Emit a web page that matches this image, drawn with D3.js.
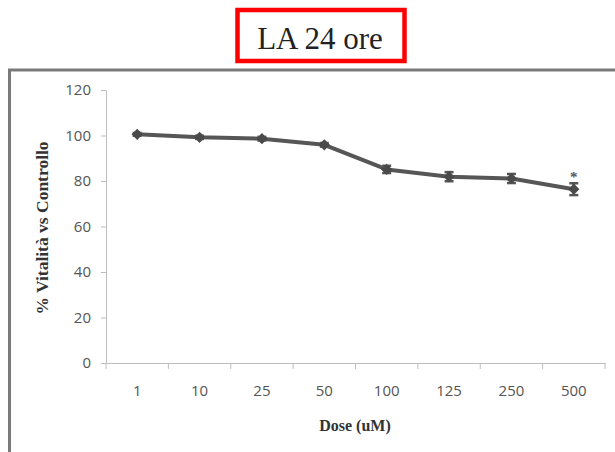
<!DOCTYPE html>
<html>
<head>
<meta charset="utf-8">
<script src="https://cdn.jsdelivr.net/npm/d3@7"></script>
<style>
  html, body { margin: 0; padding: 0; background: #fff; }
  svg { display: block; }
</style>
</head>
<body>
<svg id="chart" width="615" height="452"></svg>
<script>
// Cell viability after 24 h exposure, by dose
const doses = ["1", "10", "25", "50", "100", "125", "250", "500"];
const viability = [100.5, 99.2, 98.6, 95.9, 85.1, 81.9, 81.1, 76.4];
const errors = [0.6, 0.7, 0.8, 0.8, 1.6, 2.0, 2.0, 2.6];
const significant = [false, false, false, false, false, false, false, true];
const yTicks = [0, 20, 40, 60, 80, 100, 120];

(function () {
const svg = d3.select("#chart");
const W = 615, H = 452;

// Plot area
const plotLeft = 106, plotRight = 605, plotTop = 90, plotBottom = 363;

const x = d3.scaleBand().domain(doses).range([plotLeft, plotRight]).padding(0);
const y = d3.scaleLinear().domain([0, 120]).range([plotBottom, plotTop]);

// Outer frame: top and left edges
svg.append("path")
  .attr("d", `M9.5,${H} L9.5,70 L${W},70`)
  .attr("fill", "none")
  .attr("stroke", "#7a7a7a")
  .attr("stroke-width", 3);

// Title box
svg.append("rect")
  .attr("x", 237.5).attr("y", 10)
  .attr("width", 167).attr("height", 51)
  .attr("fill", "#fff")
  .attr("stroke", "#ff0000")
  .attr("stroke-width", 4.5);
svg.append("text")
  .attr("x", 320).attr("y", 49)
  .attr("text-anchor", "middle")
  .attr("font-family", "'Liberation Serif', 'Times New Roman', serif")
  .attr("font-size", 31)
  .attr("fill", "#222")
  .text("LA 24 ore");

const axisColor = "#bdbdbd";
const tickFont = "'Open Sans', 'Liberation Sans', sans-serif";

// Y axis
const yAxis = svg.append("g")
  .attr("transform", `translate(${plotLeft},0)`)
  .call(d3.axisLeft(y).tickValues(yTicks).tickSize(5).tickPadding(10).tickSizeOuter(0));
yAxis.select(".domain").attr("stroke", axisColor);
yAxis.selectAll(".tick line").attr("stroke", axisColor);
yAxis.selectAll(".tick text")
  .attr("font-family", tickFont).attr("font-size", 15).attr("fill", "#555");

// X axis: labels centred in each band, ticks at band boundaries
const xAxis = svg.append("g")
  .attr("transform", `translate(0,${plotBottom})`)
  .call(d3.axisBottom(x).tickSize(0).tickPadding(22).tickSizeOuter(0));
xAxis.select(".domain").attr("stroke", axisColor);
xAxis.selectAll(".tick text")
  .attr("font-family", tickFont).attr("font-size", 15).attr("fill", "#555");

const boundaries = doses.map(d => x(d)).concat([x.range()[1]]);
xAxis.selectAll("line.boundary")
  .data(boundaries)
  .join("line")
  .attr("class", "boundary")
  .attr("x1", d => d).attr("x2", d => d)
  .attr("y1", 0).attr("y2", 6)
  .attr("stroke", axisColor);

// Axis titles
const titleFont = "'Liberation Serif', 'Times New Roman', serif";
svg.append("text")
  .attr("x", 355).attr("y", 431)
  .attr("text-anchor", "middle")
  .attr("font-family", titleFont).attr("font-weight", "bold")
  .attr("font-size", 16).attr("fill", "#333")
  .text("Dose (uM)");
svg.append("text")
  .attr("transform", "translate(48,228) rotate(-90)")
  .attr("text-anchor", "middle")
  .attr("font-family", titleFont).attr("font-weight", "bold")
  .attr("font-size", 17.5).attr("fill", "#333")
  .text("% Vitalità vs Controllo");

const data = doses.map((d, i) => ({ dose: d, v: viability[i], e: errors[i], sig: significant[i] }));
const cx = d => x(d.dose) + x.bandwidth() / 2;
const lineColor = "#565656";

// Error bars
const eb = svg.append("g").attr("stroke", lineColor).attr("stroke-width", 2.5);
data.forEach(d => {
  eb.append("line").attr("x1", cx(d)).attr("x2", cx(d))
    .attr("y1", y(d.v + d.e)).attr("y2", y(d.v - d.e));
  eb.append("line").attr("x1", cx(d) - 4.5).attr("x2", cx(d) + 4.5)
    .attr("y1", y(d.v + d.e)).attr("y2", y(d.v + d.e));
  eb.append("line").attr("x1", cx(d) - 4.5).attr("x2", cx(d) + 4.5)
    .attr("y1", y(d.v - d.e)).attr("y2", y(d.v - d.e));
});

// Series line
svg.append("path")
  .datum(data)
  .attr("fill", "none")
  .attr("stroke", lineColor)
  .attr("stroke-width", 4)
  .attr("stroke-linejoin", "round")
  .attr("d", d3.line().x(cx).y(d => y(d.v)));

// Diamond markers
svg.append("g").selectAll("path")
  .data(data)
  .join("path")
  .attr("transform", d => `translate(${cx(d)},${y(d.v)})`)
  .attr("d", d3.symbol(d3.symbolDiamond2, 80))
  .attr("fill", "#4a4a4a");

// Significance marks
svg.append("g").selectAll("text")
  .data(data.filter(d => d.sig))
  .join("text")
  .attr("x", cx).attr("y", d => y(d.v + d.e) - 1)
  .attr("text-anchor", "middle")
  .attr("font-family", titleFont).attr("font-weight", "bold")
  .attr("font-size", 15).attr("fill", "#555")
  .text("*");
})();
</script>
</body>
</html>
